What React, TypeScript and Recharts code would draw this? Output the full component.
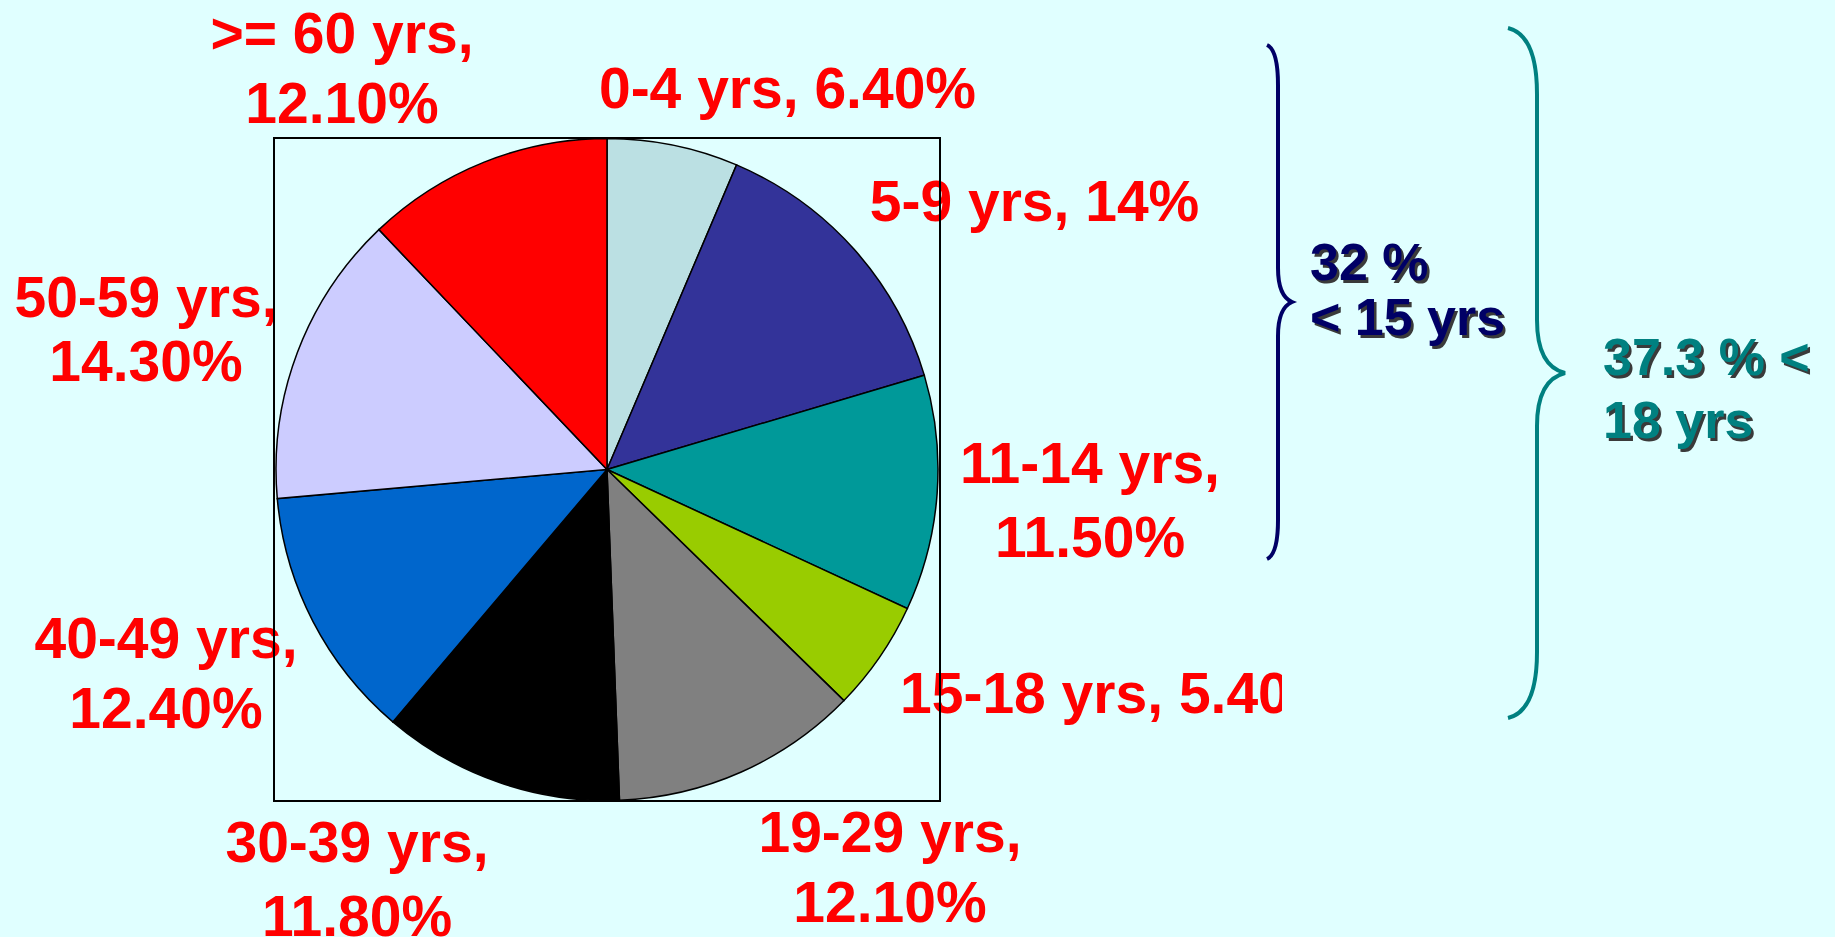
import React from 'react';
import { PieChart, Pie, Cell } from 'recharts';

const categories = ['0-4 yrs', '5-9 yrs', '11-14 yrs', '15-18 yrs', '19-29 yrs', '30-39 yrs', '40-49 yrs', '50-59 yrs', '>= 60 yrs'];
const shares = [6.4, 14, 11.5, 5.4, 12.1, 11.8, 12.4, 14.3, 12.1];
const shareLabels = ['6.40%', '14%', '11.50%', '5.40%', '12.10%', '11.80%', '12.40%', '14.30%', '12.10%'];
const sliceColors = ['#BBE0E3', '#333399', '#009999', '#99CC00', '#808080', '#000000', '#0066CC', '#CCCCFF', '#FF0000'];

const groupNotes = [
  { lines: ['32 %', '< 15 yrs'], color: '#000066' },
  { lines: ['37.3 % <', '18 yrs'], color: '#008080' },
];

const data = categories.map((name, i) => ({ name, value: shares[i], pct: shareLabels[i] }));

const BG = '#E0FFFF';
const FONT = '"Liberation Sans", Arial, Helvetica, sans-serif';
const CX = 607;
const CY = 469.5;
const R = 331;

// label placement relative to the pie centre (baseline of first line)
const labelLayout = [
  { dx: 180.5, dy: -361.5, gap: 0, lines: 1, anchor: 'middle' },
  { dx: 427.5, dy: -248.5, gap: 0, lines: 1, anchor: 'middle' },
  { dx: 483, dy: 13.5, gap: 74, lines: 2, anchor: 'middle' },
  { dx: 293, dy: 243.5, gap: 0, lines: 1, anchor: 'start' },
  { dx: 283, dy: 382.5, gap: 70, lines: 2, anchor: 'middle' },
  { dx: -250, dy: 392.5, gap: 74, lines: 2, anchor: 'middle' },
  { dx: -441, dy: 188.5, gap: 70, lines: 2, anchor: 'middle' },
  { dx: -461, dy: -152.5, gap: 64, lines: 2, anchor: 'middle' },
  { dx: -265, dy: -416.5, gap: 70, lines: 2, anchor: 'middle' },
];

const renderLabel = (props: any) => {
  const index: number = props.index;
  const cx = typeof props.cx === 'number' ? props.cx : CX;
  const cy = typeof props.cy === 'number' ? props.cy : CY;
  const lay = labelLayout[index];
  const d = data[index];
  const x = cx + lay.dx;
  const y = cy + lay.dy;
  const common = {
    fill: '#FF0000',
    fontFamily: FONT,
    fontWeight: 700,
    fontSize: 57,
    textAnchor: lay.anchor as any,
  };
  if (lay.lines === 1) {
    return (
      <text key={`lbl-${index}`} x={x} y={y} {...common}>
        {`${d.name}, ${d.pct}`}
      </text>
    );
  }
  return (
    <text key={`lbl-${index}`} {...common}>
      <tspan x={x} y={y}>{`${d.name},`}</tspan>
      <tspan x={x} y={y + lay.gap}>{d.pct}</tspan>
    </text>
  );
};

export default function App() {
  return (
    <div
      style={{
        position: 'absolute',
        left: 0,
        top: 0,
        width: 1835,
        height: 937,
        background: BG,
        overflow: 'hidden',
      }}
    >
      <div style={{ position: 'absolute', left: 0, top: 0, width: 1282, height: 937, overflow: 'hidden' }}>
        <PieChart width={1282} height={937} margin={{ top: 0, right: 0, bottom: 0, left: 0 }}>
          <Pie
            data={data}
            dataKey="value"
            nameKey="name"
            cx={CX}
            cy={CY}
            outerRadius={R}
            innerRadius={0}
            startAngle={90}
            endAngle={-270}
            stroke="#000000"
            strokeWidth={1.5}
            label={renderLabel}
            labelLine={false}
            isAnimationActive={false}
          >
            {data.map((d, i) => (
              <Cell key={d.name} fill={sliceColors[i]} />
            ))}
          </Pie>
        </PieChart>
      </div>
      <div
        style={{
          position: 'absolute',
          left: 273,
          top: 137,
          width: 668,
          height: 665,
          border: '2px solid #000',
          boxSizing: 'border-box',
          pointerEvents: 'none',
        }}
      />
      <svg width={1835} height={937} style={{ position: 'absolute', left: 0, top: 0 }}>
        <path
          d="M1267,45 Q1278,50 1278,85 L1278,268 Q1278,296 1292,302 Q1278,308 1278,336 L1278,520 Q1278,554 1267,559"
          fill="none"
          stroke={groupNotes[0].color}
          strokeWidth={4}
        />
        <path
          d="M1508,28 Q1537,35 1537,94 L1537,320 Q1537,366 1565,373 Q1537,380 1537,426 L1537,652 Q1537,711 1508,718"
          fill="none"
          stroke={groupNotes[1].color}
          strokeWidth={4}
        />
        {[
          { x: 1310, y: 280, gap: 55 },
          { x: 1603, y: 375, gap: 63 },
        ].map((p, gi) => (
          <g key={gi} fontFamily={FONT} fontWeight={700} fontSize={52}>
            {groupNotes[gi].lines.map((t, li) => (
              <text key={`s${li}`} x={p.x + 2.5} y={p.y + li * p.gap + 2.5} fill="#3a3a3a">
                {t}
              </text>
            ))}
            {groupNotes[gi].lines.map((t, li) => (
              <text key={`t${li}`} x={p.x} y={p.y + li * p.gap} fill={groupNotes[gi].color}>
                {t}
              </text>
            ))}
          </g>
        ))}
      </svg>
    </div>
  );
}
